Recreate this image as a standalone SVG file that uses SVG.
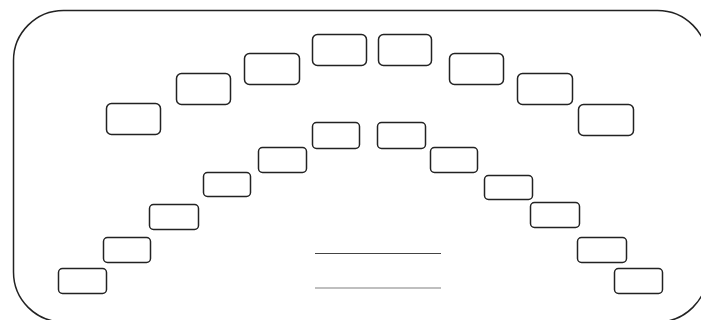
<svg xmlns="http://www.w3.org/2000/svg" width="701" height="320" viewBox="0 0 701 320">
<style>
.frame{fill:none;stroke:#222;stroke-width:1.5}
.b{fill:#fff;stroke:#222;stroke-width:1.5}
</style>
<rect width="701" height="320" fill="#fff"/>
<rect class="frame" x="13.5" y="10.5" width="694" height="311.5" rx="50" ry="50"/>
<g id="upper">
<g id="u1"><rect class="b" x="106.5" y="103.5" width="54" height="31" rx="5"/></g>
<g id="u2"><rect class="b" x="176.5" y="73.5" width="54" height="31" rx="5"/></g>
<g id="u3"><rect class="b" x="244.5" y="53.5" width="55" height="31" rx="5"/></g>
<g id="u4"><rect class="b" x="312.5" y="34.5" width="54" height="31" rx="5"/></g>
<g id="u5"><rect class="b" x="378.5" y="34.5" width="53" height="31" rx="5"/></g>
<g id="u6"><rect class="b" x="449.5" y="53.5" width="54" height="31" rx="5"/></g>
<g id="u7"><rect class="b" x="517.5" y="73.5" width="55" height="31" rx="5"/></g>
<g id="u8"><rect class="b" x="578.5" y="104.5" width="55" height="31" rx="5"/></g>
</g>
<g id="lower">
<g id="l1"><rect class="b" x="58.5" y="268.5" width="48" height="25" rx="4"/></g>
<g id="l2"><rect class="b" x="103.5" y="237.5" width="47" height="25" rx="4"/></g>
<g id="l3"><rect class="b" x="149.5" y="204.5" width="49" height="25" rx="4"/></g>
<g id="l4"><rect class="b" x="203.5" y="172.5" width="47" height="24" rx="4"/></g>
<g id="l5"><rect class="b" x="258.5" y="147.5" width="48" height="25" rx="4"/></g>
<g id="l6"><rect class="b" x="312.5" y="122.5" width="47" height="26" rx="4"/></g>
<g id="l7"><rect class="b" x="377.5" y="122.5" width="48" height="26" rx="4"/></g>
<g id="l8"><rect class="b" x="430.5" y="147.5" width="47" height="25" rx="4"/></g>
<g id="l9"><rect class="b" x="484.5" y="175.5" width="48" height="24" rx="4"/></g>
<g id="l10"><rect class="b" x="530.5" y="202.5" width="49" height="25" rx="4"/></g>
<g id="l11"><rect class="b" x="577.5" y="237.5" width="49" height="25" rx="4"/></g>
<g id="l12"><rect class="b" x="614.5" y="268.5" width="48" height="25" rx="4"/></g>
</g>
<g id="connectors">
<line x1="315" y1="253.5" x2="441" y2="253.5" stroke="#444" stroke-width="1"/>
<line x1="315" y1="288" x2="441" y2="288" stroke="#aaa" stroke-width="1.5"/>
</g>
</svg>
